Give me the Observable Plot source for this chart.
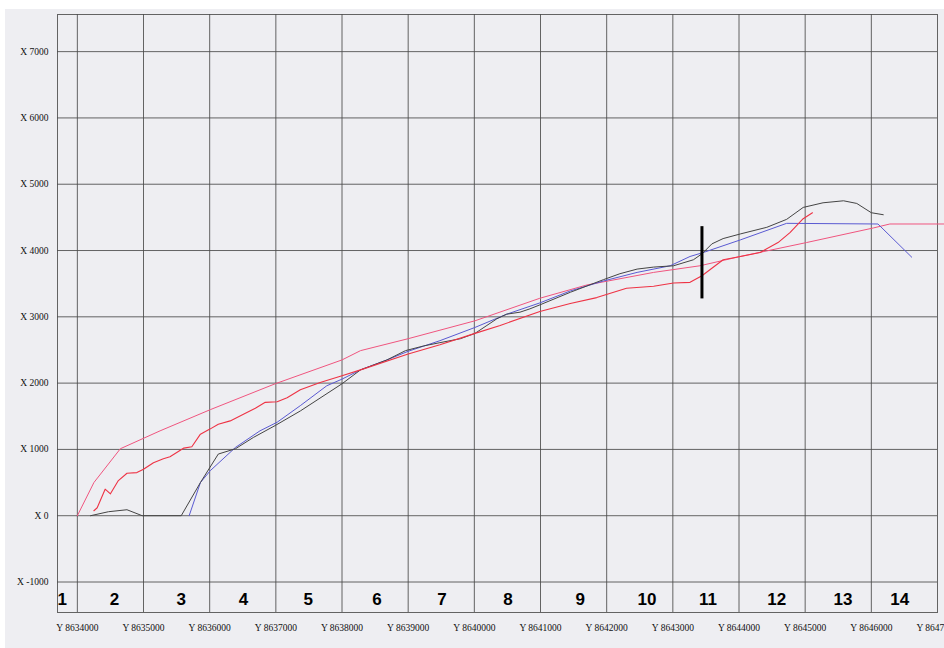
<!DOCTYPE html>
<html><head><meta charset="utf-8">
<script src="https://cdn.jsdelivr.net/npm/d3@7"></script>
<script src="https://cdn.jsdelivr.net/npm/@observablehq/plot@0.6"></script>
<style>
html,body{margin:0;padding:0;background:#ffffff;}
#wrap{padding:9px 0 0 5px;width:939px;height:639px;overflow:hidden;}
#wrap svg{display:block;}
</style></head><body><div id="wrap"></div>
<script>
// vertical axis values ("X") and horizontal axis values ("Y")
const xTicks = [-1000, 0, 1000, 2000, 3000, 4000, 5000, 6000, 7000];
const yTicks = [8634000, 8635000, 8636000, 8637000, 8638000, 8639000, 8640000,
  8641000, 8642000, 8643000, 8644000, 8645000, 8646000, 8647000];

// section numbers along the bottom band, with the Y value at which each is centred
const sectionLabels = ["1","2","3","4","5","6","7","8","9","10","11","12","13","14"];
const sectionY = [8633770, 8634560, 8635570, 8636510, 8637490, 8638530, 8639510,
  8640510, 8641600, 8642610, 8643530, 8644570, 8645570, 8646430];
const sectionX = -1270;

// series: [Y, X]
const pinkLine = [[8634000,0],[8634250,500],[8634650,1010],[8635250,1280],[8636010,1600],
  [8636990,1990],[8638000,2350],[8638280,2490],[8639000,2670],[8640010,2940],[8640990,3280],
  [8641700,3480],[8642710,3670],[8643410,3770],[8644020,3910],[8645020,4120],[8646030,4340],
  [8646280,4400],[8647130,4400]];

const redLine = [[8634250,75],[8634300,120],[8634420,400],[8634500,330],[8634620,530],
  [8634750,640],[8634900,650],[8635000,700],[8635150,800],[8635300,860],[8635400,890],
  [8635610,1020],[8635730,1040],[8635860,1230],[8636010,1310],[8636130,1380],[8636310,1430],
  [8636510,1530],[8636690,1620],[8636840,1710],[8637020,1720],[8637170,1780],[8637370,1900],
  [8637670,2010],[8638000,2110],[8638280,2200],[8639000,2440],[8639480,2580],[8640010,2750],
  [8640390,2870],[8640990,3080],[8641450,3200],[8641850,3290],[8642300,3430],[8642710,3460],
  [8643010,3510],[8643260,3520],[8643440,3620],[8643760,3860],[8644020,3910],[8644320,3970],
  [8644590,4120],[8644770,4270],[8644970,4480],[8645110,4570]];

const blackLine = [[8634200,0],[8634470,60],[8634750,90],[8634980,0],[8635570,0],
  [8635860,500],[8636130,930],[8636390,1010],[8636660,1180],[8636990,1360],[8637370,1580],
  [8638000,1990],[8638280,2200],[8638680,2350],[8638960,2490],[8639230,2560],[8639480,2610],
  [8639790,2670],[8640010,2750],[8640190,2870],[8640340,2970],[8640490,3040],[8640690,3070],
  [8640840,3120],[8640990,3180],[8641450,3370],[8641950,3560],[8642200,3650],[8642460,3720],
  [8642710,3750],[8643010,3770],[8643310,3860],[8643440,3950],[8643590,4100],[8643760,4180],
  [8644020,4250],[8644420,4350],[8644720,4470],[8644970,4650],[8645270,4720],[8645580,4750],
  [8645780,4710],[8646000,4570],[8646180,4540]];

const blueLine = [[8635690,0],[8635860,500],[8636010,680],[8636390,1030],[8636760,1280],
  [8637020,1410],[8637370,1660],[8637770,1960],[8638000,2060],[8638280,2200],[8638680,2350],
  [8639000,2480],[8639480,2640],[8640010,2840],[8640490,3040],[8640990,3210],[8641450,3390],
  [8641950,3540],[8642460,3670],[8642960,3770],[8643260,3910],[8643460,3970],[8644020,4160],
  [8644720,4410],[8646100,4400],[8646610,3900]];

// vertical marker bar
const markerY = 8643440;
const markerRange = [3270, 4360];

const gridColor = "#4a4a4a";
const serif = "'Liberation Serif', 'Times New Roman', serif";

const chart = Plot.plot({
  width: 939,
  height: 639,
  marginLeft: 52,
  marginRight: 7,
  marginTop: 5,
  marginBottom: 36,
  x: {domain: [8633700, 8647000], axis: null},
  y: {domain: [-1460, 7560], axis: null},
  style: {background: "#eeeef2", overflow: "hidden"},
  marks: [
    Plot.ruleX(yTicks.slice(0, -1), {stroke: gridColor, strokeWidth: 1, strokeOpacity: 0.85}),
    Plot.ruleY(xTicks, {stroke: gridColor, strokeWidth: 1, strokeOpacity: 0.85}),
    Plot.frame({stroke: gridColor, strokeWidth: 1, strokeOpacity: 0.85}),
    Plot.text(xTicks, {y: d => d, text: d => "X " + d, frameAnchor: "left", dx: -9,
      textAnchor: "end", fontFamily: serif, fontSize: 9.5, fill: "#111"}),
    Plot.text(yTicks, {x: d => d, text: d => "Y " + d, frameAnchor: "bottom", dy: 18,
      fontFamily: serif, fontSize: 9.5, fill: "#111"}),
    Plot.text(sectionLabels, {x: (d, i) => sectionY[i], y: () => sectionX, text: d => d,
      fontFamily: "'Liberation Sans', Arial, sans-serif", fontWeight: "bold", fontSize: 17, fill: "#000"}),
    Plot.line(pinkLine, {x: d => d[0], y: d => d[1], stroke: "#f0557f", strokeWidth: 1}),
    Plot.line(blueLine, {x: d => d[0], y: d => d[1], stroke: "#5a5ad2", strokeWidth: 1}),
    Plot.line(blackLine, {x: d => d[0], y: d => d[1], stroke: "#444", strokeWidth: 1}),
    Plot.line(redLine, {x: d => d[0], y: d => d[1], stroke: "#ee3345", strokeWidth: 1.1}),
    Plot.ruleX([markerY], {y1: markerRange[0], y2: markerRange[1], stroke: "#000", strokeWidth: 3})
  ]
});
document.getElementById("wrap").appendChild(chart);
</script>
</body></html>
